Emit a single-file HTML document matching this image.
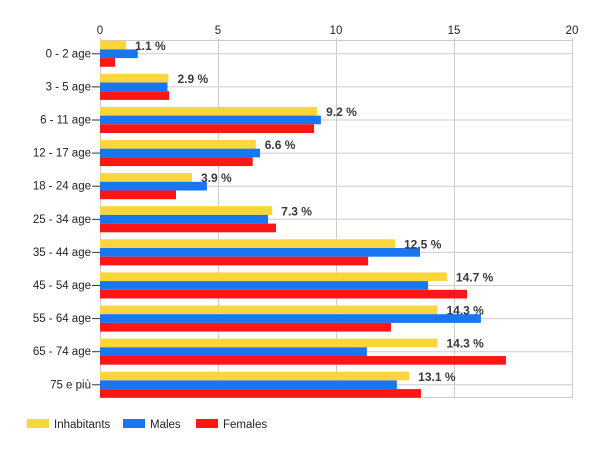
<!DOCTYPE html>
<html><head><meta charset="utf-8"><style>body{margin:0;background:#fff}svg{display:block;font-family:"Liberation Sans",Arial,sans-serif}</style></head><body>
<svg width="600" height="450" xmlns="http://www.w3.org/2000/svg" id="s">
<g stroke="#ccc" stroke-width="1">
<line x1="100.5" y1="38" x2="100.5" y2="398"/><line x1="218.5" y1="38" x2="218.5" y2="398"/><line x1="336.5" y1="38" x2="336.5" y2="398"/><line x1="454.5" y1="38" x2="454.5" y2="398"/><line x1="572.5" y1="38" x2="572.5" y2="398"/>
<line x1="100" y1="40.5" x2="572" y2="40.5"/><line x1="100" y1="397.5" x2="572" y2="397.5"/>
</g>
<g font-size="11.5" fill="#222" text-anchor="middle"><text x="100" y="34">0</text><text x="218" y="34">5</text><text x="336" y="34">10</text><text x="454" y="34">15</text><text x="572" y="34">20</text></g>
<g id="rows"></g>
<g font-size="11.5" fill="#222">
<rect x="27" y="419" width="22" height="9" fill="#fbd53c"/><text x="54" y="428">Inhabitants</text>
<rect x="123" y="419" width="22" height="9" fill="#1a76f0"/><text x="150" y="428">Males</text>
<rect x="196" y="419" width="22" height="9" fill="#fd1616"/><text x="223" y="428">Females</text>
</g>
</svg>
<script>
var d=[["0 - 2 age",1.1,1.6,0.64],["3 - 5 age",2.9,2.86,2.93],["6 - 11 age",9.2,9.36,9.07],["12 - 17 age",6.6,6.78,6.47],["18 - 24 age",3.9,4.53,3.22],["25 - 34 age",7.3,7.12,7.46],["35 - 44 age",12.5,13.56,11.36],["45 - 54 age",14.7,13.9,15.55],["55 - 64 age",14.3,16.14,12.33],["65 - 74 age",14.3,11.31,17.2],["75 e più",13.1,12.58,13.6]];
var h="",k=23.6;
d.forEach(function(r,i){var c=53.3+33.1*i;
h+='<line x1="100" y1="'+(c+.5)+'" x2="572" y2="'+(c+.5)+'" stroke="#ccc"/>';
h+='<line x1="92" y1="'+(c+.5)+'" x2="100" y2="'+(c+.5)+'" stroke="#333"/>';
h+='<text x="91" y="'+(c+4)+'" font-size="11.5" fill="#222" text-anchor="end">'+r[0]+'</text>';
h+='<rect x="100" y="'+(c-12.6)+'" width="'+r[1]*k+'" height="8.7" fill="#fbd53c"/>';
h+='<rect x="100" y="'+(c-3.9)+'" width="'+r[2]*k+'" height="8.7" fill="#1a76f0"/>';
h+='<rect x="100" y="'+(c+4.8)+'" width="'+r[3]*k+'" height="8.7" fill="#fd1616"/>';
h+='<text x="'+(100+r[1]*k+9)+'" y="'+(c-3.5)+'" font-size="12" font-weight="bold" fill="#3a3a3a">'+r[1].toFixed(1)+' %</text>';});
document.getElementById("rows").innerHTML=h;
</script>
</body></html>
